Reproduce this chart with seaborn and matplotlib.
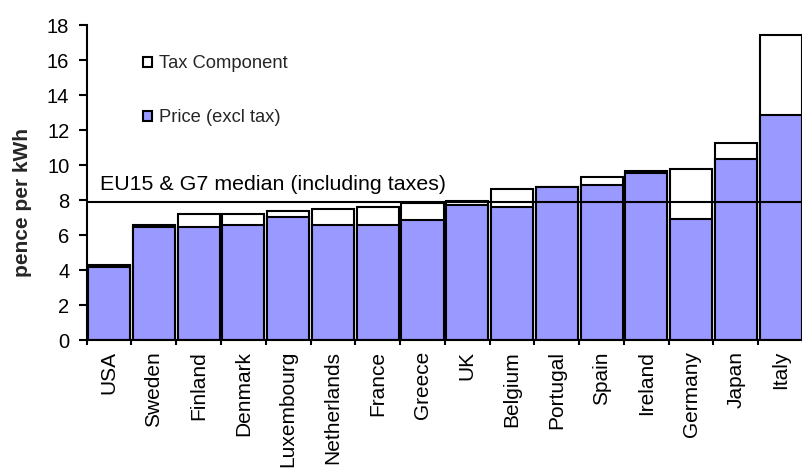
import numpy as np
import pandas as pd
import matplotlib
matplotlib.use('Agg')
import matplotlib.pyplot as plt
from matplotlib.patches import Patch
import seaborn as sns

# Data (pence per kWh)
countries = ['USA', 'Sweden', 'Finland', 'Denmark', 'Luxembourg', 'Netherlands',
             'France', 'Greece', 'UK', 'Belgium', 'Portugal', 'Spain', 'Ireland',
             'Germany', 'Japan', 'Italy']
price_excl_tax = [4.2, 6.45, 6.48, 6.6, 7.05, 6.6, 6.6, 6.84, 7.71, 7.62,
                  8.76, 8.86, 9.56, 6.91, 10.34, 12.86]
tax_component = [0.1, 0.12, 0.7, 0.58, 0.34, 0.9, 1.02, 0.99, 0.25, 1.03,
                 0.0, 0.47, 0.12, 2.86, 0.94, 4.57]
median_incl_tax = 7.87
y_ticks = list(range(0, 19, 2))

BAR_BLUE = '#9999FF'

df = pd.DataFrame({'country': countries,
                   'price': price_excl_tax,
                   'tax': tax_component})
df['total'] = df['price'] + df['tax']

sns.set_theme(style='ticks', rc={
    'axes.edgecolor': 'black',
    'axes.linewidth': 1.5,
    'xtick.color': 'black',
    'ytick.color': 'black',
})
plt.rcParams['font.family'] = ['Liberation Sans', 'DejaVu Sans']

fig = plt.figure(figsize=(8.03, 4.68), dpi=100)
ax = fig.add_axes([0.108, 0.2735, 0.892, 0.673])

# total bar (white = tax on top), then price bar drawn over it
sns.barplot(data=df, x='country', y='total', color='white', saturation=1,
            edgecolor='black', linewidth=1.5, width=0.94, ax=ax, zorder=2)
sns.barplot(data=df, x='country', y='price', color=BAR_BLUE, saturation=1,
            edgecolor='black', linewidth=1.5, width=0.94, ax=ax, zorder=2)

# median line across the whole chart
ax.axhline(median_incl_tax, color='black', linewidth=1.5, zorder=3)
ax.text(-0.21, 8.57, 'EU15 & G7 median (including taxes)', fontsize=15.4,
        ha='left', va='baseline', color='black')

ax.set_ylim(0, 18)
ax.set_xlim(-0.5, 15.41)
ax.set_yticks(y_ticks)
ax.tick_params(axis='y', labelsize=14.5, length=5.5, width=1.5, pad=7)

# ticks between categories, labels centred under bars
ax.set_xticks(np.arange(-0.5, 16, 1))
ax.set_xticklabels([])
ax.set_xticks(range(len(countries)), minor=True)
ax.set_xticklabels(countries, minor=True, rotation=90, fontsize=15)
ax.tick_params(axis='x', which='major', length=3.6, width=1.5)
ax.tick_params(axis='x', which='minor', length=0, pad=8)

ax.set_xlabel('')
ax.set_ylabel('pence per kWh', fontsize=15, fontweight='bold')
ax.yaxis.set_label_coords(-0.076, 0.438)
sns.despine(ax=ax)

handles = [Patch(facecolor='white', edgecolor='black', linewidth=1.5),
           Patch(facecolor=BAR_BLUE, edgecolor='black', linewidth=1.5)]
ax.legend(handles, ['Tax Component', 'Price (excl tax)'], frameon=False,
          fontsize=13.2, loc='center left', bbox_to_anchor=(0.158, 0.806),
          bbox_transform=fig.transFigure, handlelength=0.45, handleheight=0.45,
          handletextpad=0.4, labelspacing=2.0)

fig.savefig('out.png', dpi=100)
